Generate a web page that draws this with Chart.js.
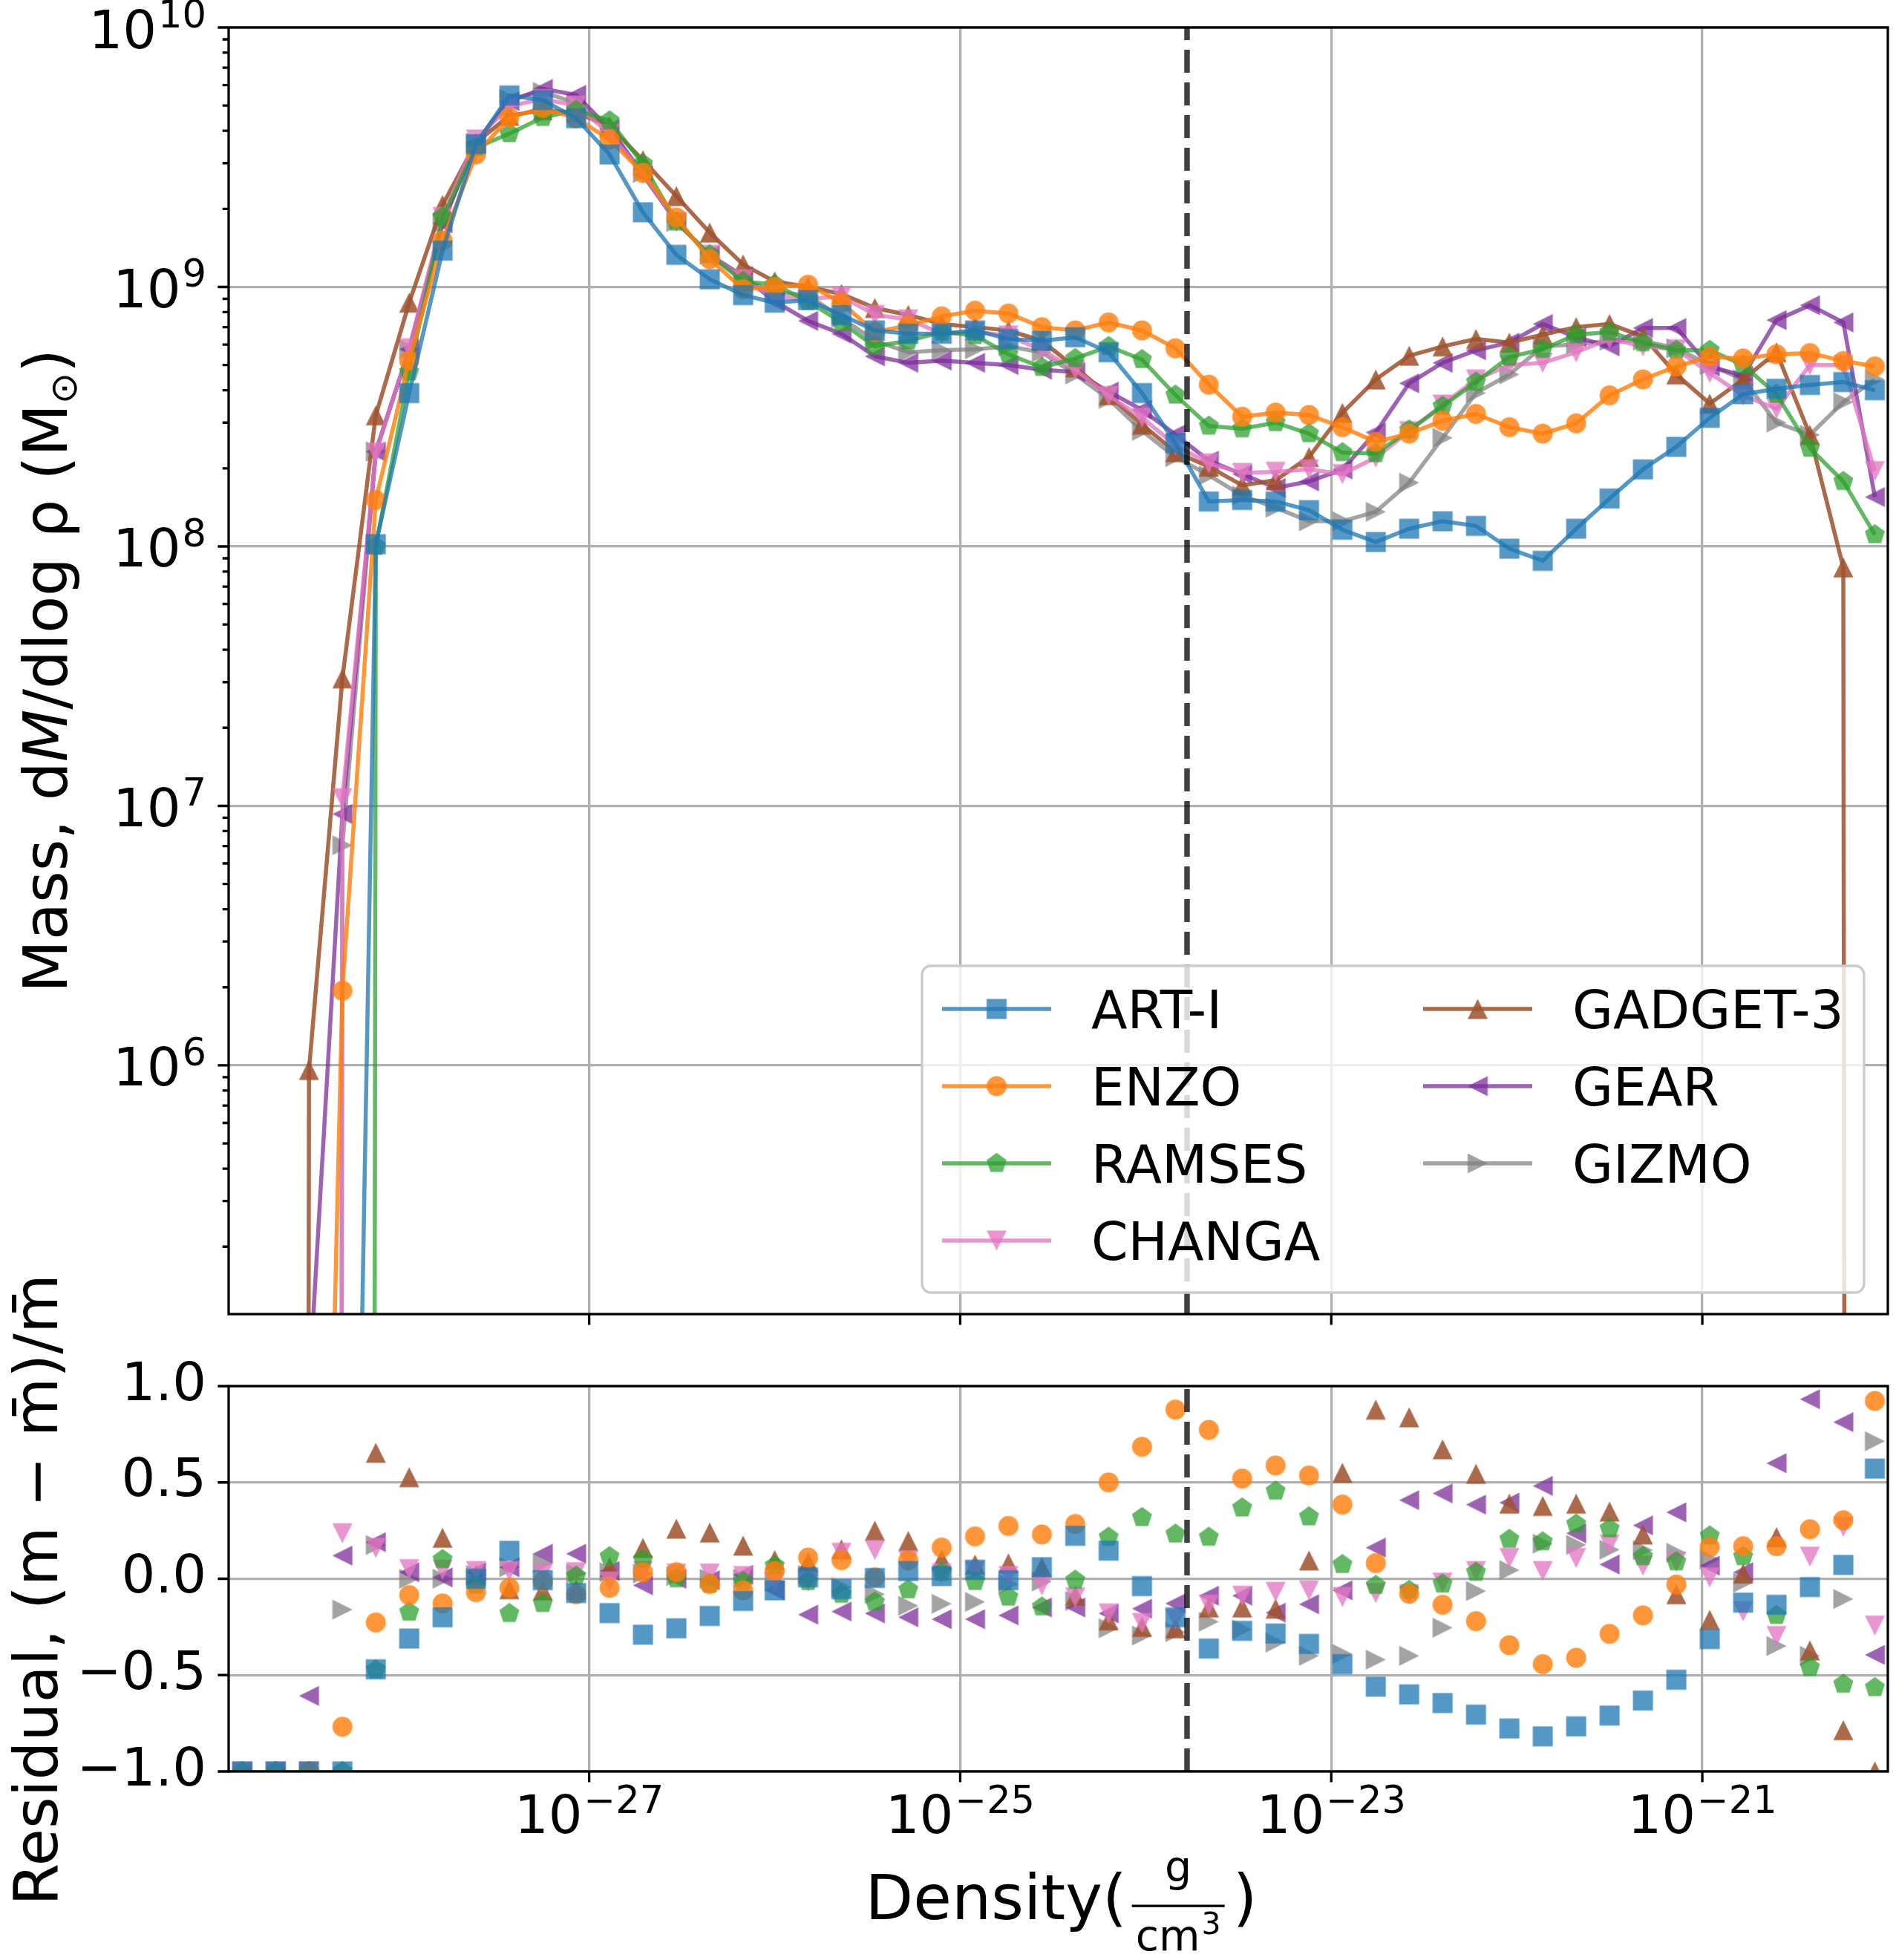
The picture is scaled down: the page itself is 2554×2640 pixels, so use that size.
<!DOCTYPE html>
<html lang="en">
<head>
<meta charset="utf-8">
<title>Density PDF by code</title>
<script src="https://cdn.jsdelivr.net/npm/chart.js@4.4.1/dist/chart.umd.min.js"></script>
<style>
  html, body { margin: 0; padding: 0; background: #fff; }
  #page { position: relative; width: 2554px; height: 2640px; overflow: hidden; }
  .panel { position: absolute; left: 0; width: 2554px; }
  #massPanel { top: 0; height: 1860px; }
  #residPanel { top: 1660px; height: 980px; }
</style>
</head>
<body>
<div id="page">
  <div class="panel" id="massPanel"><canvas id="massChart"></canvas></div>
  <div class="panel" id="residPanel"><canvas id="residChart"></canvas></div>
</div>
<script>
// ---------------- data ----------------
const codes = ['ART-I', 'ENZO', 'RAMSES', 'CHANGA', 'GADGET-3', 'GEAR', 'GIZMO'];

// bin centres, log10(density / g cm^-3)
const logDensity = [
  -28.87, -28.69, -28.51, -28.33, -28.15, -27.97, -27.79, -27.61, -27.43, -27.25,
  -27.07, -26.89, -26.71, -26.53, -26.35, -26.17, -26.00, -25.82, -25.64, -25.46,
  -25.28, -25.10, -24.92, -24.74, -24.56, -24.38, -24.20, -24.02, -23.84, -23.66,
  -23.48, -23.30, -23.12, -22.94, -22.76, -22.58, -22.40, -22.22, -22.04, -21.86,
  -21.68, -21.50, -21.32, -21.14, -20.96, -20.78, -20.60, -20.42, -20.24, -20.07
];

// dM/dlog rho in Msun (0 = empty bin)
const massART = [
  0, 0, 0, 5, 1.02e8, 3.9e8, 1.38e9, 3.55e9, 5.47e9, 5.25e9,
  4.47e9, 3.24e9, 1.94e9, 1.33e9, 1.07e9, 9.3e8, 8.7e8, 8.9e8, 7.8e8, 6.8e8,
  6.6e8, 6.6e8, 6.8e8, 6.3e8, 6.2e8, 6.4e8, 5.6e8, 3.9e8, 2.5e8, 1.49e8,
  1.51e8, 1.49e8, 1.38e8, 1.16e8, 1.04e8, 1.17e8, 1.25e8, 1.2e8, 9.8e7, 8.8e7,
  1.17e8, 1.53e8, 1.98e8, 2.42e8, 3.13e8, 3.86e8, 4.05e8, 4.19e8, 4.3e8, 4.0e8
];
const massENZO = [
  0, 0, 7, 1.94e6, 1.51e8, 5.2e8, 1.51e9, 3.24e9, 4.5e9, 4.9e9,
  4.47e9, 3.7e9, 2.75e9, 1.85e9, 1.28e9, 9.8e8, 1.0e9, 1.02e9, 8.7e8, 6.7e8,
  7.1e8, 7.7e8, 8.1e8, 7.9e8, 7.0e8, 6.8e8, 7.3e8, 6.8e8, 5.8e8, 4.2e8,
  3.16e8, 3.28e8, 3.21e8, 2.88e8, 2.53e8, 2.72e8, 3.05e8, 3.24e8, 2.88e8, 2.72e8,
  2.98e8, 3.82e8, 4.4e8, 4.94e8, 5.37e8, 5.3e8, 5.5e8, 5.56e8, 5.18e8, 4.94e8
];
const massRAMSES = [
  0, 0, 0, 0, 1.0e8, 4.7e8, 1.86e9, 3.44e9, 3.9e9, 4.5e9,
  4.8e9, 4.37e9, 2.98e9, 1.78e9, 1.33e9, 1.05e9, 1.02e9, 8.8e8, 7.3e8, 5.9e8,
  6.2e8, 6.7e8, 6.5e8, 5.5e8, 4.9e8, 5.3e8, 5.9e8, 5.25e8, 3.83e8, 2.91e8,
  2.84e8, 3.0e8, 2.72e8, 2.3e8, 2.28e8, 2.81e8, 3.47e8, 4.3e8, 5.37e8, 5.75e8,
  6.55e8, 6.7e8, 6.1e8, 5.7e8, 5.7e8, 5.0e8, 3.86e8, 2.39e8, 1.78e8, 1.11e8
];
const massCHANGA = [
  0, 0, 0, 1.07e7, 2.3e8, 5.8e8, 1.86e9, 3.7e9, 4.97e9, 5.3e9,
  5.0e9, 3.9e9, 2.75e9, 1.78e9, 1.33e9, 1.07e9, 9.1e8, 9.0e8, 9.2e8, 7.8e8,
  7.5e8, 6.6e8, 6.7e8, 6.5e8, 5.7e8, 4.8e8, 3.8e8, 3.14e8, 2.45e8, 2.09e8,
  1.92e8, 1.94e8, 1.98e8, 1.9e8, 2.2e8, 2.78e8, 3.52e8, 4.4e8, 5.0e8, 5.1e8,
  5.6e8, 6.3e8, 5.9e8, 5.75e8, 4.66e8, 3.82e8, 3.39e8, 5.0e8, 5.0e8, 1.95e8
];
const massGADGET = [
  0, 0, 9.6e5, 3.1e7, 3.2e8, 8.7e8, 2.07e9, 3.6e9, 4.57e9, 4.8e9,
  4.7e9, 4.17e9, 3.08e9, 2.24e9, 1.62e9, 1.22e9, 1.05e9, 1.0e9, 9.4e8, 8.3e8,
  7.8e8, 7.2e8, 7.0e8, 6.8e8, 6.2e8, 4.9e8, 3.83e8, 2.95e8, 2.31e8, 2.03e8,
  1.72e8, 1.8e8, 2.21e8, 3.27e8, 4.4e8, 5.43e8, 5.9e8, 6.3e8, 6.1e8, 6.55e8,
  7.0e8, 7.2e8, 6.45e8, 4.6e8, 3.55e8, 4.4e8, 5.6e8, 2.69e8, 8.3e7, 0
];
const massGEAR = [
  0, 0, 5.6e4, 9.3e6, 2.32e8, 5.75e8, 1.76e9, 3.6e9, 5.2e9, 5.8e9,
  5.5e9, 4.07e9, 2.7e9, 1.78e9, 1.33e9, 1.1e9, 8.8e8, 7.4e8, 6.6e8, 5.4e8,
  5.1e8, 5.2e8, 5.1e8, 5.0e8, 4.8e8, 4.7e8, 3.95e8, 3.36e8, 2.7e8, 2.14e8,
  1.9e8, 1.68e8, 1.78e8, 1.98e8, 2.75e8, 4.25e8, 5.1e8, 5.7e8, 6.1e8, 7.2e8,
  6.4e8, 5.9e8, 6.95e8, 6.95e8, 4.94e8, 4.55e8, 7.45e8, 8.5e8, 7.3e8, 1.55e8
];
const massGIZMO = [
  0, 0, 0, 7.05e6, 2.32e8, 5.75e8, 1.76e9, 3.6e9, 5.3e9, 5.65e9,
  5.1e9, 4.07e9, 2.75e9, 1.78e9, 1.33e9, 1.07e9, 9.5e8, 9.3e8, 7.6e8, 6.2e8,
  5.6e8, 5.7e8, 5.75e8, 5.9e8, 5.6e8, 4.6e8, 3.7e8, 2.79e8, 2.21e8, 1.88e8,
  1.57e8, 1.41e8, 1.25e8, 1.25e8, 1.36e8, 1.76e8, 2.62e8, 3.9e8, 4.6e8, 5.9e8,
  6.0e8, 6.2e8, 6.2e8, 5.8e8, 5.0e8, 4.4e8, 3.0e8, 2.69e8, 3.6e8, 4.4e8
];

// residual (m - mean)/mean, null = off the plotted range
const residART = [
  -1, -1, -1, -1, -0.47, -0.31, -0.2, 0.0, 0.145, -0.007,
  -0.074, -0.178, -0.29, -0.257, -0.193, -0.115, -0.06, 0.007, -0.054, 0.004,
  0.04, 0.014, 0.047, -0.007, 0.06, 0.223, 0.146, -0.038, -0.2, -0.362,
  -0.27, -0.284, -0.338, -0.443, -0.56, -0.6, -0.645, -0.705, -0.777, -0.818,
  -0.766, -0.71, -0.632, -0.524, -0.313, -0.124, -0.135, -0.043, 0.072, 0.572
];
const residENZO = [
  null, null, -1, -0.768, -0.227, -0.085, -0.128, -0.07, -0.047, -0.014,
  -0.08, -0.047, 0.034, 0.034, -0.027, -0.06, 0.04, 0.11, 0.097, 0.007,
  0.095, 0.162, 0.22, 0.274, 0.23, 0.284, 0.5, 0.685, 0.878, 0.773,
  0.52, 0.588, 0.536, 0.385, 0.081, -0.078, -0.135, -0.22, -0.345, -0.443,
  -0.41, -0.286, -0.19, -0.03, 0.165, 0.169, 0.169, 0.257, 0.304, 0.923
];
const residRAMSES = [
  -1, -1, -1, -1, -0.473, -0.173, 0.1, -0.034, -0.18, -0.128,
  0.014, 0.115, 0.1, 0.0, -0.027, -0.014, 0.068, -0.014, -0.08, -0.12,
  -0.057, 0.034, -0.014, -0.095, -0.146, -0.007, 0.216, 0.318, 0.232, 0.216,
  0.368, 0.455, 0.322, 0.074, -0.034, -0.06, -0.027, 0.034, 0.205, 0.192,
  0.284, 0.26, 0.115, 0.088, 0.223, 0.115, -0.19, -0.46, -0.547, -0.565
];
const residCHANGA = [
  -1, -1, -1, 0.236, 0.16, 0.05, 0.047, 0.04, 0.04, 0.027,
  0.034, -0.014, 0.04, 0.027, 0.027, 0.014, -0.014, -0.014, 0.135, 0.149,
  0.095, 0.027, 0.04, 0.014, -0.034, -0.097, -0.18, -0.23, -0.21, -0.135,
  -0.088, -0.068, -0.06, -0.095, -0.074, -0.08, -0.02, 0.04, 0.108, 0.04,
  0.108, 0.178, 0.068, 0.088, 0.007, -0.169, -0.297, 0.115, 0.27, -0.243
];
const residGADGET = [
  -1, -1, null, null, 0.654, 0.527, 0.213, 0.02, -0.054, -0.06,
  -0.054, 0.06, 0.16, 0.26, 0.24, 0.172, 0.097, 0.088, 0.153, 0.25,
  0.196, 0.1, 0.074, 0.08, 0.06, -0.088, -0.216, -0.25, -0.257, -0.149,
  -0.149, -0.155, 0.095, 0.55, 0.878, 0.838, 0.672, 0.545, 0.39, 0.378,
  0.39, 0.349, 0.23, -0.08, -0.213, 0.027, 0.216, -0.372, -0.786, -1
];
const residGEAR = [
  -1, -1, -0.608, 0.12, 0.19, 0.034, 0.007, 0.034, 0.06, 0.13,
  0.13, 0.04, -0.034, 0.0, -0.007, 0.02, -0.06, -0.186, -0.17, -0.18,
  -0.2, -0.21, -0.21, -0.19, -0.149, -0.149, -0.18, -0.155, -0.128, -0.088,
  -0.088, -0.176, -0.132, -0.06, 0.162, 0.408, 0.443, 0.385, 0.395, 0.482,
  0.236, 0.074, 0.277, 0.345, 0.068, 0.034, 0.6, 0.932, 0.813, -0.395
];
const residGIZMO = [
  -1, -1, -1, -0.16, 0.175, 0.0, 0.0, 0.02, 0.06, 0.08,
  0.027, 0.034, 0.027, 0.014, 0.0, 0.0, -0.014, 0.02, -0.043, -0.08,
  -0.14, -0.13, -0.12, -0.027, -0.014, -0.115, -0.257, -0.295, -0.277, -0.223,
  -0.263, -0.331, -0.4, -0.39, -0.42, -0.4, -0.254, -0.064, 0.045, 0.182,
  0.176, 0.151, 0.149, 0.135, 0.101, -0.02, -0.349, -0.4, -0.105, 0.714
];

const massSeries = [massART, massENZO, massRAMSES, massCHANGA, massGADGET, massGEAR, massGIZMO];
const residSeries = [residART, residENZO, residRAMSES, residCHANGA, residGADGET, residGEAR, residGIZMO];

// ticks (power-of-ten labels are written as base + exponent)
const densityTicks = [1e-27, 1e-25, 1e-23, 1e-21];
const densityTickExps = ['−27', '−25', '−23', '−21'];
const massTicks = [1e6, 1e7, 1e8, 1e9, 1e10];
const massTickExps = ['6', '7', '8', '9', '10'];
const residTicks = [-1, -0.5, 0, 0.5, 1];
const residTickLabels = ['−1.0', '−0.5', '0.0', '0.5', '1.0'];

const hydrogenDensity = 1.67e-24;   // 1 H atom per cm^3
const densityMin = 1.14e-29, densityMax = 1e-20;
const massMin = 1.1e5, massMax = 1e10;

// ---------------- styling ----------------
const FONT = '"DejaVu Sans", sans-serif';
const GRID = '#b0b0b0';
const colors = [
  'rgba(31,119,180,0.76)', 'rgba(255,127,14,0.82)', 'rgba(44,160,44,0.74)',
  'rgba(227,119,194,0.78)', 'rgba(160,82,45,0.86)', 'rgba(125,45,155,0.75)',
  'rgba(127,127,127,0.72)'
];
const shapes = ['square', 'circle', 'pentagon', 'down', 'up', 'left', 'right'];

// matplotlib-like marker sprites (s, o, p, v, ^, <, >)
function markerSprite(shape, color) {
  const ms = 27, c = document.createElement('canvas');
  c.width = c.height = ms + 9;
  const g = c.getContext('2d');
  const h = ms / 2;
  g.translate(c.width / 2, c.height / 2);
  g.fillStyle = color;
  g.beginPath();
  if (shape === 'square') {
    g.rect(-h, -h, ms, ms);
  } else if (shape === 'circle') {
    g.arc(0, 0, h, 0, Math.PI * 2);
  } else if (shape === 'pentagon') {
    for (let i = 0; i < 5; i++) {
      const t = -Math.PI / 2 + i * 2 * Math.PI / 5;
      g.lineTo(h * 1.05 * Math.cos(t), h * 1.05 * Math.sin(t));
    }
  } else {
    g.rotate({ up: 0, down: Math.PI, left: -Math.PI / 2, right: Math.PI / 2 }[shape]);
    g.moveTo(0, -h); g.lineTo(-h, h); g.lineTo(h, h);
  }
  g.closePath();
  g.fill();
  return c;
}
const markers = shapes.map((s, i) => markerSprite(s, colors[i]));

// empty bins have no mass: on the log axis they go far below the frame,
// so the curves drop straight out of the panel as in the original
const EMPTY_BIN = 1e-200;

// ---------------- plugins ----------------
const axesFrame = {
  id: 'axesFrame',
  afterDraw(chart) {
    const { ctx, chartArea: a, scales } = chart;
    ctx.save();
    ctx.strokeStyle = '#000';
    ctx.lineWidth = 3.3;
    ctx.beginPath();
    scales.x.ticks.forEach(t => {
      const p = scales.x.getPixelForValue(t.value);
      ctx.moveTo(p, a.bottom);
      ctx.lineTo(p, a.bottom + (t.major ? 14.6 : 8.3));
    });
    scales.y.ticks.forEach(t => {
      const p = scales.y.getPixelForValue(t.value);
      ctx.moveTo(a.left, p);
      ctx.lineTo(a.left - (t.major ? 14.6 : 8.3), p);
    });
    ctx.stroke();
    ctx.strokeRect(a.left, a.top, a.right - a.left, a.bottom - a.top);
    ctx.restore();
  }
};

// "10" with a raised exponent, placed at the scale's tick positions
function drawPower(ctx, exp, x, baseline, align) {
  ctx.font = '72px ' + FONT;
  const wb = ctx.measureText('10').width;
  ctx.font = '51px ' + FONT;
  const we = ctx.measureText(exp).width;
  const total = wb + 2 + we;
  const x0 = align === 'right' ? x - total : x - total / 2;
  ctx.font = '72px ' + FONT;
  ctx.fillText('10', x0, baseline);
  ctx.font = '51px ' + FONT;
  ctx.fillText(exp, x0 + wb + 2, baseline - 27.5);
}

const powerLabels = {
  id: 'powerLabels',
  afterDraw(chart, args, opts) {
    const { ctx, chartArea: a, scales } = chart;
    ctx.save();
    ctx.fillStyle = '#000';
    ctx.textAlign = 'left';
    ctx.textBaseline = 'alphabetic';
    if (opts.y) {
      massTicks.forEach((v, j) => {
        const p = scales.y.getPixelForValue(v);
        drawPower(ctx, massTickExps[j], a.left - 30, p + 27.5, 'right');
      });
    }
    if (opts.x) {
      densityTicks.forEach((v, j) => {
        const p = scales.x.getPixelForValue(v);
        drawPower(ctx, densityTickExps[j], p, a.bottom + 83, 'center');
      });
    }
    ctx.restore();
  }
};

const hydrogenLine = {
  id: 'hydrogenLine',
  afterDatasetsDraw(chart) {
    const { ctx, chartArea: a, scales } = chart;
    const px = scales.x.getPixelForValue(hydrogenDensity);
    ctx.save();
    ctx.beginPath();
    ctx.rect(a.left, a.top, a.right - a.left, a.bottom - a.top);
    ctx.clip();
    ctx.strokeStyle = 'rgba(0,0,0,0.75)';
    ctx.lineWidth = 7.5;
    ctx.setLineDash([31, 13]);
    ctx.beginPath();
    ctx.moveTo(px, a.bottom);
    ctx.lineTo(px, a.top);
    ctx.stroke();
    ctx.restore();
  }
};

function roundedBox(ctx, x, y, w, h, r) {
  ctx.beginPath();
  ctx.moveTo(x + r, y);
  ctx.arcTo(x + w, y, x + w, y + h, r);
  ctx.arcTo(x + w, y + h, x, y + h, r);
  ctx.arcTo(x, y + h, x, y, r);
  ctx.arcTo(x, y, x + w, y, r);
  ctx.closePath();
}

const codeLegend = {
  id: 'codeLegend',
  afterDraw(chart) {
    const { ctx, chartArea: a } = chart;
    const w = 1269, h = 440;
    const x = a.right - 32 - w, y = a.bottom - 29 - h;
    ctx.save();
    roundedBox(ctx, x, y, w, h, 12);
    ctx.fillStyle = 'rgba(255,255,255,0.8)';
    ctx.fill();
    ctx.lineWidth = 3.3;
    ctx.strokeStyle = '#cccccc';
    ctx.stroke();
    ctx.font = '71px ' + FONT;
    ctx.textBaseline = 'alphabetic';
    codes.forEach((name, i) => {
      const col = i < 4 ? 0 : 1, row = i < 4 ? i : i - 4;
      const lx = x + 27 + col * 648, ly = y + 58 + row * 104;
      ctx.strokeStyle = colors[i];
      ctx.lineWidth = 5.5;
      ctx.beginPath();
      ctx.moveTo(lx, ly);
      ctx.lineTo(lx + 147, ly);
      ctx.stroke();
      const m = markers[i];
      ctx.drawImage(m, lx + 73.5 - m.width / 2, ly - m.height / 2);
      ctx.fillStyle = '#000';
      ctx.fillText(name, lx + 201, ly + 26);
    });
    ctx.restore();
  }
};

// text made of pieces (italic M, subscript sun symbol...)
function drawPieces(ctx, pieces, x, y, vertical) {
  ctx.save();
  ctx.translate(x, y);
  if (vertical) ctx.rotate(-Math.PI / 2);
  const fontOf = p => (p.italic ? 'italic ' : '') + p.size + 'px ' + FONT;
  let total = 0;
  pieces.forEach(p => { ctx.font = fontOf(p); p.w = ctx.measureText(p.text).width; total += p.w; });
  let cx = -total / 2;
  ctx.fillStyle = '#000';
  ctx.textAlign = 'left';
  ctx.textBaseline = 'alphabetic';
  pieces.forEach(p => { ctx.font = fontOf(p); ctx.fillText(p.text, cx, p.dy || 0); cx += p.w; });
  ctx.restore();
}

const massTitles = {
  id: 'massTitles',
  afterDraw(chart) {
    const a = chart.chartArea;
    drawPieces(chart.ctx, [
      { text: 'Mass, d', size: 82 },
      { text: 'M', size: 82, italic: true },
      { text: '/dlog ρ (M', size: 82 },
      { text: '⊙', size: 50, dy: 13 },
      { text: ')', size: 82 }
    ], 90, (a.top + a.bottom) / 2, true);
  }
};

const residTitles = {
  id: 'residTitles',
  afterDraw(chart) {
    const { ctx, chartArea: a } = chart;
    drawPieces(ctx, [{ text: 'Residual, (m − m̄)/m̄', size: 82 }], 77, (a.top + a.bottom) / 2 + 15, true);

    // Density(g / cm^3) with a stacked fraction
    ctx.save();
    ctx.fillStyle = '#000';
    ctx.textBaseline = 'alphabetic';
    ctx.textAlign = 'left';
    ctx.font = '84px ' + FONT;
    const wA = ctx.measureText('Density(').width;
    const wB = ctx.measureText(')').width;
    ctx.font = '57px ' + FONT;
    const wG = ctx.measureText('g').width;
    const wCm = ctx.measureText('cm').width;
    ctx.font = '41px ' + FONT;
    const w3 = ctx.measureText('3').width;
    const wC = wCm + 2 + w3;
    const barW = Math.max(wG, wC) + 10;
    const total = wA + 7 + barW + 11 + wB;
    const x0 = (a.left + a.right) / 2 - total / 2 + 4;
    const fx = x0 + wA + 7;
    ctx.font = '84px ' + FONT;
    ctx.fillText('Density(', x0, a.bottom + 199);
    ctx.fillText(')', fx + barW + 11, a.bottom + 199);
    ctx.fillRect(fx, a.bottom + 179.5, barW, 3.3);
    ctx.font = '57px ' + FONT;
    ctx.fillText('g', fx + (barW - wG) / 2, a.bottom + 148);
    const cx = fx + (barW - wC) / 2;
    ctx.fillText('cm', cx, a.bottom + 241);
    ctx.font = '41px ' + FONT;
    ctx.fillText('3', cx + wCm + 2, a.bottom + 219);
    ctx.restore();
  }
};

// ---------------- charts ----------------
Chart.defaults.font.family = FONT;
Chart.defaults.color = '#000';

const densityScaleBase = {
  type: 'logarithmic',
  min: densityMin,
  max: densityMax,
  afterBuildTicks: s => { s.ticks = densityTicks.map(v => ({ value: v, major: true })); },
  ticks: { display: false },
  grid: { color: GRID, lineWidth: 3.3, drawTicks: false },
  border: { display: false }
};

const minorMass = [];
massTicks.concat([1e5]).forEach(d => {
  for (let m = 2; m <= 9; m++) if (d * m > massMin && d * m < massMax) minorMass.push(d * m);
});

new Chart(document.getElementById('massChart'), {
  type: 'line',
  data: {
    datasets: codes.map((name, i) => ({
      label: name,
      data: logDensity.map((ld, k) => ({
        x: Math.pow(10, ld),
        y: massSeries[i][k] > 0 ? massSeries[i][k] : EMPTY_BIN
      })),
      borderColor: colors[i],
      backgroundColor: colors[i],
      borderWidth: 5.5,
      pointStyle: markers[i],
      pointRadius: 13,
      pointHoverRadius: 13,
      pointBorderWidth: 0,
      tension: 0,
      fill: false
    }))
  },
  options: {
    responsive: true,
    maintainAspectRatio: false,
    animation: false,
    devicePixelRatio: 1,
    events: [],
    layout: { autoPadding: false, padding: { left: 0, right: 11, top: 37, bottom: 0 } },
    plugins: { legend: { display: false }, tooltip: { enabled: false }, powerLabels: { x: false, y: true } },
    scales: {
      x: Object.assign({}, densityScaleBase, {
        afterFit: s => { s.height = 90; s.paddingLeft = 0; s.paddingRight = 0; }
      }),
      y: {
        type: 'logarithmic',
        min: massMin,
        max: massMax,
        afterBuildTicks: s => {
          s.ticks = massTicks.map(v => ({ value: v, major: true }))
            .concat(minorMass.map(v => ({ value: v, major: false })));
        },
        afterFit: s => { s.width = 308; s.paddingTop = 0; s.paddingBottom = 0; },
        ticks: { display: false },
        grid: {
          color: c => (c.tick && c.tick.major ? GRID : 'rgba(0,0,0,0)'),
          lineWidth: 3.3,
          drawTicks: false
        },
        border: { display: false }
      }
    }
  },
  plugins: [hydrogenLine, axesFrame, powerLabels, codeLegend, massTitles]
});

new Chart(document.getElementById('residChart'), {
  type: 'scatter',
  data: {
    datasets: codes.map((name, i) => ({
      label: name,
      data: logDensity.map((ld, k) => ({ x: Math.pow(10, ld), y: residSeries[i][k] })),
      showLine: false,
      backgroundColor: colors[i],
      pointStyle: markers[i],
      pointRadius: 13,
      pointHoverRadius: 13,
      pointBorderWidth: 0,
      clip: 0
    }))
  },
  options: {
    responsive: true,
    maintainAspectRatio: false,
    animation: false,
    devicePixelRatio: 1,
    events: [],
    layout: { autoPadding: false, padding: { left: 0, right: 11, top: 207, bottom: 0 } },
    plugins: { legend: { display: false }, tooltip: { enabled: false }, powerLabels: { x: true, y: false } },
    scales: {
      x: Object.assign({}, densityScaleBase, {
        afterFit: s => { s.height = 254; s.paddingLeft = 0; s.paddingRight = 0; }
      }),
      y: {
        type: 'linear',
        min: -1,
        max: 1,
        afterBuildTicks: s => { s.ticks = residTicks.map(v => ({ value: v, major: true })); },
        afterFit: s => { s.width = 308; s.paddingTop = 0; s.paddingBottom = 0; },
        ticks: {
          autoSkip: false,
          padding: 30,
          font: { size: 72 },
          color: '#000',
          callback: v => { const j = residTicks.indexOf(v); return j >= 0 ? residTickLabels[j] : ''; }
        },
        grid: { color: GRID, lineWidth: 3.3, drawTicks: false },
        border: { display: false }
      }
    }
  },
  plugins: [hydrogenLine, axesFrame, powerLabels, residTitles]
});
</script>
</body>
</html>
